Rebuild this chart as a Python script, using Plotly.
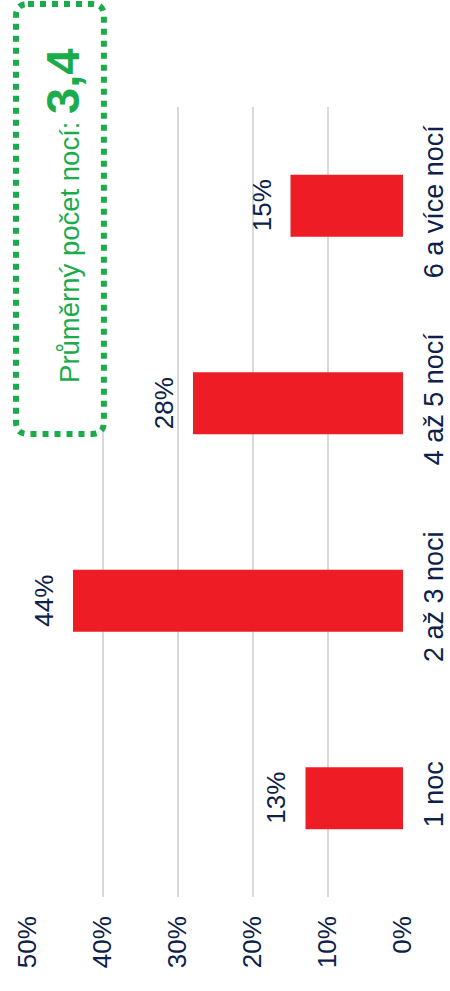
import plotly.graph_objects as go

categories = ["1 noc", "2 až 3 noci", "4 až 5 nocí", "6 a více nocí"]
values = [13, 44, 28, 15]
value_labels = ["13%", "44%", "28%", "15%"]
tick_values = [0, 10, 20, 30, 40, 50]
tick_labels = ["0%", "10%", "20%", "30%", "40%", "50%"]
avg_label = "Průměrný počet nocí: "
avg_value = "3,4"

NAVY = "#0d2149"
RED = "#ee1d25"
GREEN = "#1aab4b"
FONT = "Liberation Sans, Arial, sans-serif"

W, H = 450, 991
ML, MR, MT, MB = 28, 46.5, 107, 94
PW = W - ML - MR
PH = H - MT - MB


def px_x(px):
    return (px - ML) / PW


def px_y(py):
    return (H - MB - py) / PH


fig = go.Figure()
fig.add_trace(go.Bar(
    y=categories, x=values, orientation="h",
    marker=dict(color=RED, line=dict(width=0)),
    hoverinfo="skip",
))

for cat, v, lab in zip(categories, values, value_labels):
    fig.add_annotation(
        x=v, y=cat, xref="x", yref="y", text=lab, showarrow=False,
        textangle=-90, xanchor="center", yanchor="middle", xshift=-29,
        font=dict(family=FONT, size=26, color=NAVY),
    )

# rounded dotted box
x0, x1 = px_x(16), px_x(104)
y0, y1 = px_y(434), px_y(4)
rx, ry = 12 / PW, 12 / PH
path = (
    f"M {x0+rx},{y1} L {x1-rx},{y1} Q {x1},{y1} {x1},{y1-ry} "
    f"L {x1},{y0+ry} Q {x1},{y0} {x1-rx},{y0} "
    f"L {x0+rx},{y0} Q {x0},{y0} {x0},{y0+ry} "
    f"L {x0},{y1-ry} Q {x0},{y1} {x0+rx},{y1} Z"
)
fig.add_shape(type="path", path=path, xref="paper", yref="paper",
              line=dict(color=GREEN, width=6, dash="6px,6px"),
              fillcolor="white", layer="above")

fig.add_annotation(
    x=px_x(63), y=px_y(216), xref="paper", yref="paper", showarrow=False,
    text=f"{avg_label}<b><span style='font-size:47px'>{avg_value}</span></b>",
    textangle=-90, xanchor="center", yanchor="middle",
    font=dict(family=FONT, size=27.5, color=GREEN),
)

fig.update_layout(
    width=W, height=H,
    margin=dict(l=ML, r=MR, t=MT, b=MB, pad=0, autoexpand=False),
    paper_bgcolor="white", plot_bgcolor="white",
    showlegend=False, bargap=0.686,
    font=dict(family=FONT, color=NAVY),
    xaxis=dict(
        range=[50, 0], tickvals=tick_values, ticktext=tick_labels,
        tickangle=-90, showgrid=True, gridcolor="#d9d9d9", gridwidth=2,
        zeroline=False, showline=False, ticks="", automargin=False,
        tickfont=dict(family=FONT, size=26, color=NAVY),
        ticklabelstandoff=13, fixedrange=True,
    ),
    yaxis=dict(
        side="right", categoryorder="array", categoryarray=categories,
        tickangle=-90, showgrid=False, zeroline=False, showline=False,
        ticks="", automargin=False,
        tickfont=dict(family=FONT, size=27, color=NAVY),
        ticklabelstandoff=12, fixedrange=True,
    ),
)

fig.write_html(
    "out.html",
    config={"displayModeBar": False},
    post_script="document.body.style.margin='0';document.body.style.overflow='hidden';",
)
